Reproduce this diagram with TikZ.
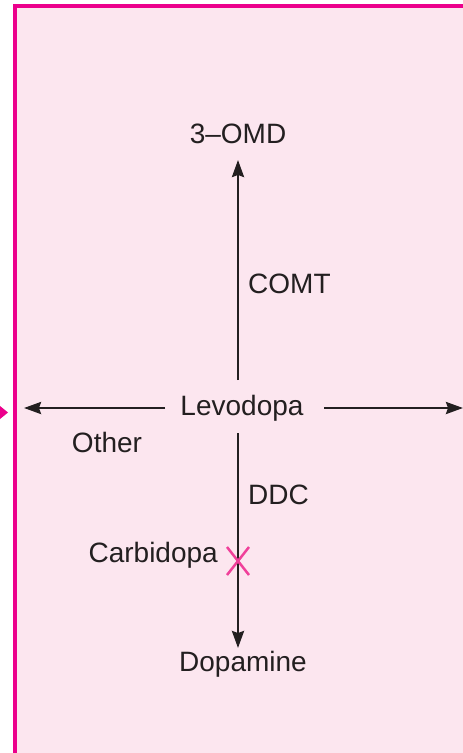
\documentclass[tikz,border=0pt]{standalone}
\usepackage{fontspec}
\setmainfont{Liberation Sans}
\usetikzlibrary{arrows.meta,calc}
\definecolor{bgpink}{HTML}{FCE6EF}
\definecolor{magentab}{HTML}{EC008C}
\definecolor{xpink}{HTML}{F0409A}
\definecolor{ink}{HTML}{231F20}
\begin{document}
\begin{tikzpicture}[x=1pt,y=-1pt,
  lbl/.style={font=\fontsize{28}{30}\selectfont, text=ink, inner sep=0pt},
  conn/.style={draw=ink, line width=2.5pt, -{Stealth[length=17pt,width=12pt,inset=2pt]}}]
\useasboundingbox (0,0) rectangle (463,753);
\fill[white] (0,0) rectangle (463,753);
\fill[bgpink] (13,4) rectangle (463,753);
\fill[magentab] (13,4) rectangle (463,8);
\fill[magentab] (13,4) rectangle (16.5,753);
\fill[magentab] (0,406) -- (8,412.5) -- (0,419) -- cycle;
\node[lbl] (levo) at (242,408) {Levodopa};
\node[lbl] (omd) at (238,134) {3--OMD};
\node[lbl, anchor=west] (comt) at (248,284) {COMT};
\node[lbl, anchor=west] (ddc) at (248,495) {DDC};
\node[lbl] (other) at (107,442) {Other};
\node[lbl, anchor=east] (carbi) at (218,555) {Carbidopa};
\node[lbl] (dopa) at (243,664) {Dopamine};
\coordinate (upS) at (238,380);
\coordinate (upE) at (238,160);
\coordinate (dnS) at (238,433);
\coordinate (dnE) at (238,648);
\coordinate (lS) at (165,408);
\coordinate (lE) at (24,408);
\coordinate (rS) at (324,408);
\coordinate (rE) at (463,408);
\draw[conn] (upS) -- (upE);
\draw[conn] (dnS) -- (dnE);
\draw[conn] (lS) -- (lE);
\draw[conn] (rS) -- (rE);
\coordinate (xc) at (238,561);
\draw[xpink, line width=2.5pt] ($(xc)+(-11,-14)$) -- ($(xc)+(11,14)$);
\draw[xpink, line width=2.5pt] ($(xc)+(11,-14)$) -- ($(xc)+(-11,14)$);
\end{tikzpicture}
\end{document}
